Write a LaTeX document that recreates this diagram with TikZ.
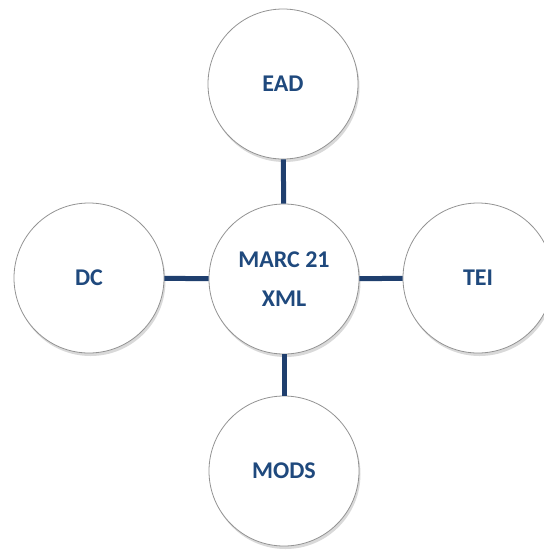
\documentclass[tikz,border=0pt]{standalone}
\usepackage{fontspec}
\setmainfont{Carlito}
\usetikzlibrary{positioning,shadows}
\definecolor{textblue}{HTML}{1F497D}
\definecolor{linkblue}{HTML}{1F3F6E}

\begin{document}
\begin{tikzpicture}[
    x=1pt, y=1pt,
    format/.style={circle, draw=gray!85, line width=0.8pt, fill=white, minimum size=150pt, inner sep=0pt,
        font=\fontsize{24}{39}\selectfont\bfseries, text=textblue, align=center,
        drop shadow={shadow xshift=1.5pt, shadow yshift=-3pt, opacity=0.25, fill=black!60}},
    link/.style={draw=linkblue, line width=5pt}
]
\useasboundingbox (0,0) rectangle (544,-550);

% Centre
\node[format] (marc) at (284,-279) {MARC 21\\XML};

% Formats round it
\node[format] (ead) at (283,-84) {EAD};
\node[format] (dc) at (89,-278) {DC};
\node[format] (tei) at (478,-278) {TEI};
\node[format] (mods) at (284,-471) {MODS};

% Links
\draw[link] (ead) -- (marc);
\draw[link] (dc) -- (marc);
\draw[link] (marc) -- (tei);
\draw[link] (marc) -- (mods);

\end{tikzpicture}
\end{document}
